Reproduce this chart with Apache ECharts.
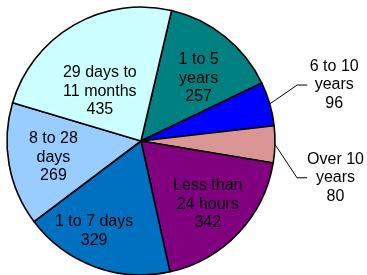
<!DOCTYPE html>
<html>
<head>
<meta charset="utf-8">
<script src="https://cdn.jsdelivr.net/npm/echarts@6/dist/echarts.min.js"></script>
<style>
html,body{margin:0;padding:0;background:#fff;}
#main{width:367px;height:275px;}
</style>
</head>
<body>
<div id="main"></div>
<script>
var names = ['1 to 5\nyears', '6 to 10\nyears', 'Over 10\nyears', 'Less than\n24 hours', '1 to 7 days', '8 to 28\ndays', '29 days to\n11 months'];
var values = [257, 96, 80, 342, 329, 269, 435];
var colors = ['#008080', '#0000ff', '#da9694', '#800080', '#0070c0', '#99ccff', '#ccffff'];
var outside = [false, true, true, false, false, false, false];

var font = 'Liberation Sans, Arial, sans-serif';
var center = [141, 141];
var startAngle = 76.8;

// nudges so the labels sit where the original put them
var innerShift = [[0, 9], null, null, [0, 0], [-15, 4], [3, 0], [5, 30]];
var outerShift = [null, [12, -15], [9, -3], null, null, null, null];

var pieData = [];
var labelData = [];
for (var i = 0; i < values.length; i++) {
	var d = {name: names[i], value: values[i], itemStyle: {color: colors[i]}};
	if (outside[i]) {
		d.label = {show: true};
		d.labelLine = {show: true};
		if (i == 2) d.label.padding = [36, 0, 0, 0];
	}
	pieData.push(d);
	labelData.push({name: names[i], value: values[i], label: {show: !outside[i]}});
}

function outerFmt(p) {
	var lines = (p.name + '\n' + p.value).split('\n');
	return lines.map(function(s){ return '{t|' + s + '}'; }).join('\n');
}

var myChart = echarts.init(document.getElementById('main'));
var option = {
	animation: false,
	series: [
		{
			type: 'pie',
			center: center,
			radius: [0, 134],
			startAngle: startAngle,
			clockwise: true,
			avoidLabelOverlap: false,
			itemStyle: {borderColor: '#000', borderWidth: 1.6},
			label: {
				show: false,
				position: 'outside',
				formatter: outerFmt,
				distanceToLabelLine: 2,
				rich: {
					t: {width: 54, align: 'center', fontFamily: font, fontSize: 16, lineHeight: 18.5, color: '#000'}
				}
			},
			labelLine: {show: false, length: 14, length2: 10, lineStyle: {color: '#000', width: 1}},
			labelLayout: function(p) {
				var s = outerShift[p.dataIndex];
				if (!s) return {hideOverlap: false};
				var r = p.labelRect;
				return {x: r.x + s[0], y: r.y + r.height / 2 + s[1], hideOverlap: false};
			},
			emphasis: {disabled: true},
			data: pieData
		},
		{
			type: 'pie',
			center: center,
			radius: [44, 134],
			startAngle: startAngle,
			clockwise: true,
			silent: true,
			itemStyle: {color: 'transparent', borderWidth: 0},
			label: {
				position: 'inside',
				formatter: '{b}\n{c}',
				fontFamily: font,
				fontSize: 16,
				lineHeight: 18.5,
				color: '#000'
			},
			labelLine: {show: false},
			labelLayout: function(p) {
				var s = innerShift[p.dataIndex];
				if (!s) return {hideOverlap: false};
				return {dx: s[0], dy: s[1], hideOverlap: false};
			},
			emphasis: {disabled: true},
			data: labelData
		}
	]
};
myChart.setOption(option);
</script>
</body>
</html>
